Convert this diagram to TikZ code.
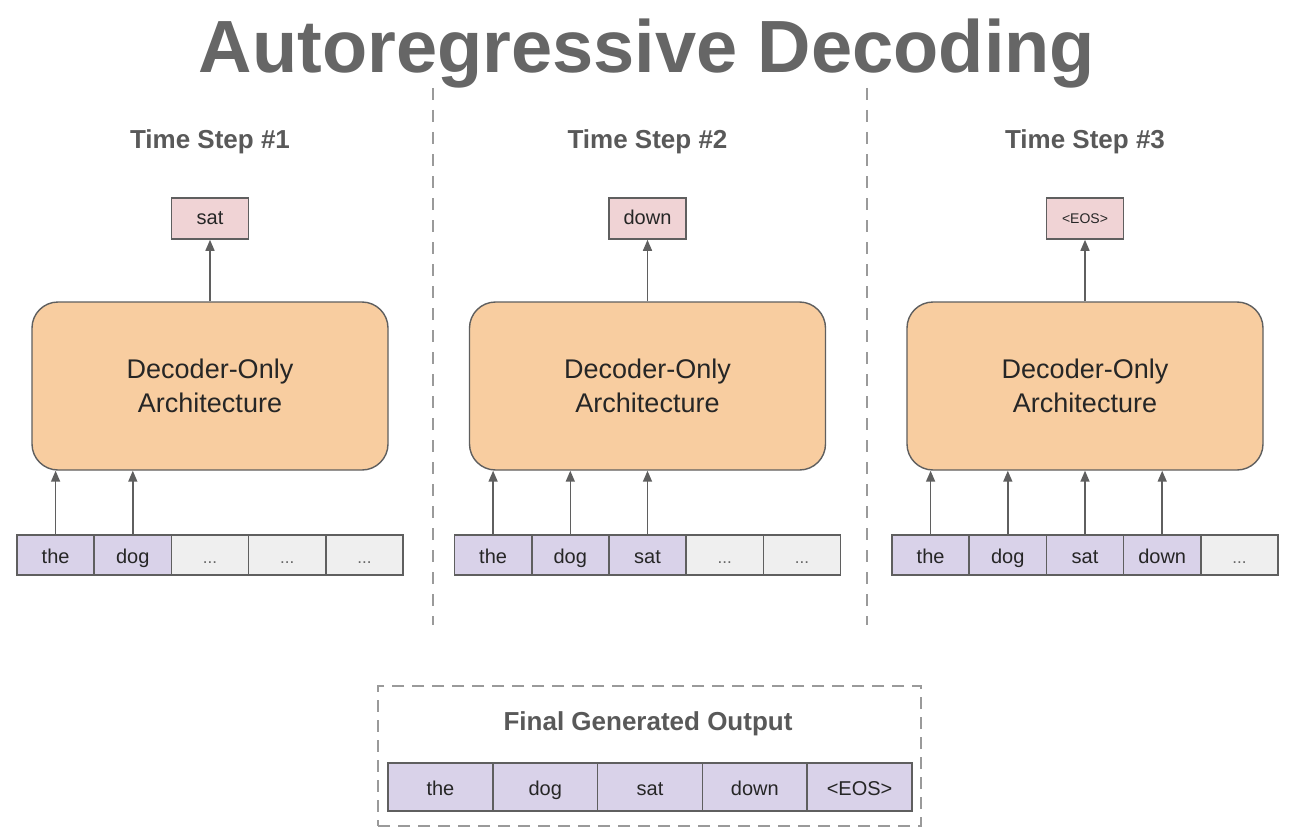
\documentclass[tikz,border=0pt]{standalone}
\usepackage{fontspec}
\setmainfont{Liberation Sans}
\usetikzlibrary{arrows.meta}
\definecolor{titlegray}{HTML}{666666}
\definecolor{labelgray}{HTML}{595959}
\definecolor{edgegray}{HTML}{5F5F5F}
\definecolor{tokfill}{HTML}{D9D2E9}
\definecolor{emptyfill}{HTML}{EFEFEF}
\definecolor{outfill}{HTML}{F0D3D5}
\definecolor{decfill}{HTML}{F8CDA0}
\definecolor{dashgray}{HTML}{9A9A9A}
\tikzset{
  tok/.style={draw=edgegray, line width=1.6pt, fill=tokfill, minimum width=77.2pt, minimum height=40pt, inner sep=0pt, text height=18pt, text depth=2pt, font=\fontsize{20}{24}\selectfont, text=black!85},
  emptytok/.style={tok, fill=emptyfill, text=black!60},
  outbox/.style={draw=edgegray, line width=1.6pt, fill=outfill, minimum width=77pt, minimum height=41pt, inner sep=0pt, text height=15pt, text depth=4pt, font=\fontsize{20}{24}\selectfont, text=black!85},
  decbox/.style={draw=edgegray, line width=1.4pt, fill=decfill, rounded corners=26pt, minimum width=356pt, minimum height=168pt, align=center, font=\fontsize{27}{34}\selectfont, text=black!85},
  steplabel/.style={font=\bfseries\fontsize{26}{30}\selectfont, text=labelgray},
  arr/.style={draw=edgegray, line width=1.5pt, -{Triangle[length=11pt,width=9pt]}},
  sep/.style={draw=dashgray, line width=1.5pt, dash pattern=on 12pt off 10pt},
  finaltok/.style={tok, minimum width=104.8pt, minimum height=48pt},
}
\newcommand{\dotsx}{{\fontsize{17}{20}\selectfont ...}}
\begin{document}
\begin{tikzpicture}[x=1pt,y=-1pt]
\useasboundingbox (0,0) rectangle (1298,840);
\fill[white] (0,0) rectangle (1298,840);

\node[font=\bfseries\fontsize{74}{80}\selectfont, text=titlegray] (title) at (647,54) {Autoregressive Decoding};

\coordinate (s1t) at (433,88); \coordinate (s1b) at (433,625);
\coordinate (s2t) at (867,88); \coordinate (s2b) at (867,625);
\draw[sep] (s1t) -- (s1b);
\draw[sep] (s2t) -- (s2b);

% Panel 1
\node[steplabel] (ts1) at (210,142) {Time Step \#1};
\node[outbox] (o1) at (210,218.5) {sat};
\node[decbox] (d1) at (210,386) {Decoder-Only\\Architecture};
\node[tok] (a1) at (55.6,555) {the};
\node[tok] (a2) at (132.8,555) {dog};
\node[emptytok] (a3) at (210,555) {\dotsx};
\node[emptytok] (a4) at (287.2,555) {\dotsx};
\node[emptytok] (a5) at (364.4,555) {\dotsx};
\draw[arr] (d1.north) -- (o1.south);
\draw[arr] (a1.north) -- (a1.north |- d1.south);
\draw[arr] (a2.north) -- (a2.north |- d1.south);

% Panel 2
\node[steplabel] (ts2) at (647.5,142) {Time Step \#2};
\node[outbox] (o2) at (647.5,218.5) {down};
\node[decbox] (d2) at (647.5,386) {Decoder-Only\\Architecture};
\node[tok] (b1) at (493.1,555) {the};
\node[tok] (b2) at (570.3,555) {dog};
\node[tok] (b3) at (647.5,555) {sat};
\node[emptytok] (b4) at (724.7,555) {\dotsx};
\node[emptytok] (b5) at (801.9,555) {\dotsx};
\draw[arr] (d2.north) -- (o2.south);
\draw[arr] (b1.north) -- (b1.north |- d2.south);
\draw[arr] (b2.north) -- (b2.north |- d2.south);
\draw[arr] (b3.north) -- (b3.north |- d2.south);

% Panel 3
\node[steplabel] (ts3) at (1085,142) {Time Step \#3};
\node[outbox, font=\fontsize{14}{16}\selectfont, text height=11pt, text depth=2pt] (o3) at (1085,218.5) {<EOS>};
\node[decbox] (d3) at (1085,386) {Decoder-Only\\Architecture};
\node[tok] (c1) at (930.6,555) {the};
\node[tok] (c2) at (1007.8,555) {dog};
\node[tok] (c3) at (1085,555) {sat};
\node[tok] (c4) at (1162.2,555) {down};
\node[emptytok] (c5) at (1239.4,555) {\dotsx};
\draw[arr] (d3.north) -- (o3.south);
\draw[arr] (c1.north) -- (c1.north |- d3.south);
\draw[arr] (c2.north) -- (c2.north |- d3.south);
\draw[arr] (c3.north) -- (c3.north |- d3.south);
\draw[arr] (c4.north) -- (c4.north |- d3.south);

% Final output
\node[draw=dashgray, line width=2pt, dash pattern=on 12pt off 8pt, minimum width=543pt, minimum height=140pt] (fbox) at (649.5,756) {};
\node[steplabel] (flabel) at (648,724) {Final Generated Output};
\node[finaltok] (f1) at (440.4,787) {the};
\node[finaltok] (f2) at (545.2,787) {dog};
\node[finaltok] (f3) at (650,787) {sat};
\node[finaltok] (f4) at (754.8,787) {down};
\node[finaltok] (f5) at (859.6,787) {<EOS>};
\end{tikzpicture}
\end{document}
